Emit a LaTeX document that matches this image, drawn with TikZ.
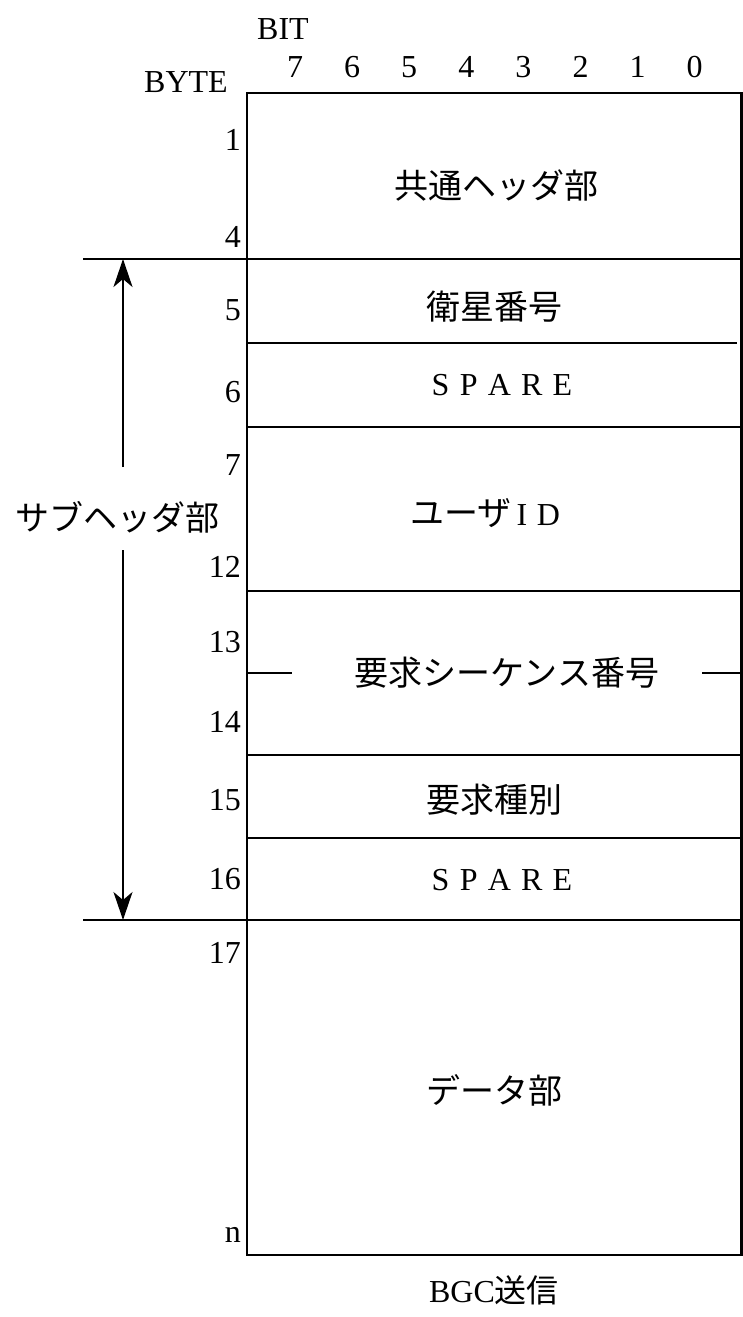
\documentclass[tikz,border=0pt]{standalone}
\usepackage{fontspec}
\setmainfont{Liberation Serif}
\newfontfamily\jp{Noto Sans CJK JP}
\usetikzlibrary{arrows.meta}
\begin{document}
\begin{tikzpicture}[x=1pt,y=-1pt,
  rule/.style={line width=2.3pt},
  lat/.style={font=\fontsize{32}{38}\selectfont, inner sep=0pt},
  jpt/.style={font=\jp\fontsize{34}{40}\selectfont, inner sep=0pt},
  num/.style={lat, anchor=east},
  arr/.style={line width=2pt, -{Stealth[length=28pt,width=19pt,inset=8pt]}}]
\useasboundingbox (0,0) rectangle (743,1317);
\fill[white] (0,0) rectangle (743,1317);
% frame
\draw[rule] (247,93) rectangle (741.5,1255);
\draw[rule] (83,259) -- (741.5,259);
\draw[rule] (247,343) -- (737,343);
\draw[rule] (247,427) -- (741.5,427);
\draw[rule] (247,591) -- (740,591);
\draw[rule] (247,755) -- (741.5,755);
\draw[rule] (247,838) -- (741.5,838);
\draw[rule] (83,920) -- (741.5,920);
\draw[rule] (247,673) -- (292,673);
\draw[rule] (702,673) -- (741.5,673);
% header labels
\node[lat] (bit) at (283,29) {BIT};
\node[lat] (byte) at (186,82) {BYTE};
\foreach \i in {0,...,7}{
  \node[lat] (b\i) at ({295+(7-\i)*57.1},67) {\i};
}
% byte numbers
\node[num] (n1) at (241,140) {1};
\node[num] (n4) at (241,237) {4};
\node[num] (n5) at (241,310) {5};
\node[num] (n6) at (241,392) {6};
\node[num] (n7) at (241,465) {7};
\node[num] (n12) at (241,567) {12};
\node[num] (n13) at (241,642) {13};
\node[num] (n14) at (241,722) {14};
\node[num] (n15) at (241,800) {15};
\node[num] (n16) at (241,879) {16};
\node[num] (n17) at (241,953) {17};
\node[num] (nn) at (241,1235) {n};
% fields
\node[jpt] (f1) at (496,185) {共通ヘッダ部};
\node[jpt] (f2) at (494,307) {衛星番号};
\node[lat] (f3) at (502,385) {S\hspace{0.32em}P\hspace{0.32em}A\hspace{0.32em}R\hspace{0.32em}E};
\node[jpt] (f4) at (485,513) {ユーザ\hspace{0.15em}{\rmfamily\fontsize{32}{38}\selectfont I\hspace{0.3em}D}};
\node[jpt] (f5) at (507,673) {要求シーケンス番号};
\node[jpt] (f6) at (494,800) {要求種別};
\node[lat] (f7) at (502,880) {S\hspace{0.32em}P\hspace{0.32em}A\hspace{0.32em}R\hspace{0.32em}E};
\node[jpt] (f8) at (494,1090) {データ部};
\node[lat] (cap) at (494,1290) {BGC{\jp\fontsize{32}{38}\selectfont 送信}};
% sub header
\node[jpt] (sub) at (117,517) {サブヘッダ部};
\coordinate (atop) at (123,259);
\coordinate (gtop) at (123,467);
\coordinate (gbot) at (123,550);
\coordinate (abot) at (123,920);
\draw[arr] (gtop) -- (atop);
\draw[arr] (gbot) -- (abot);
\end{tikzpicture}
\end{document}
